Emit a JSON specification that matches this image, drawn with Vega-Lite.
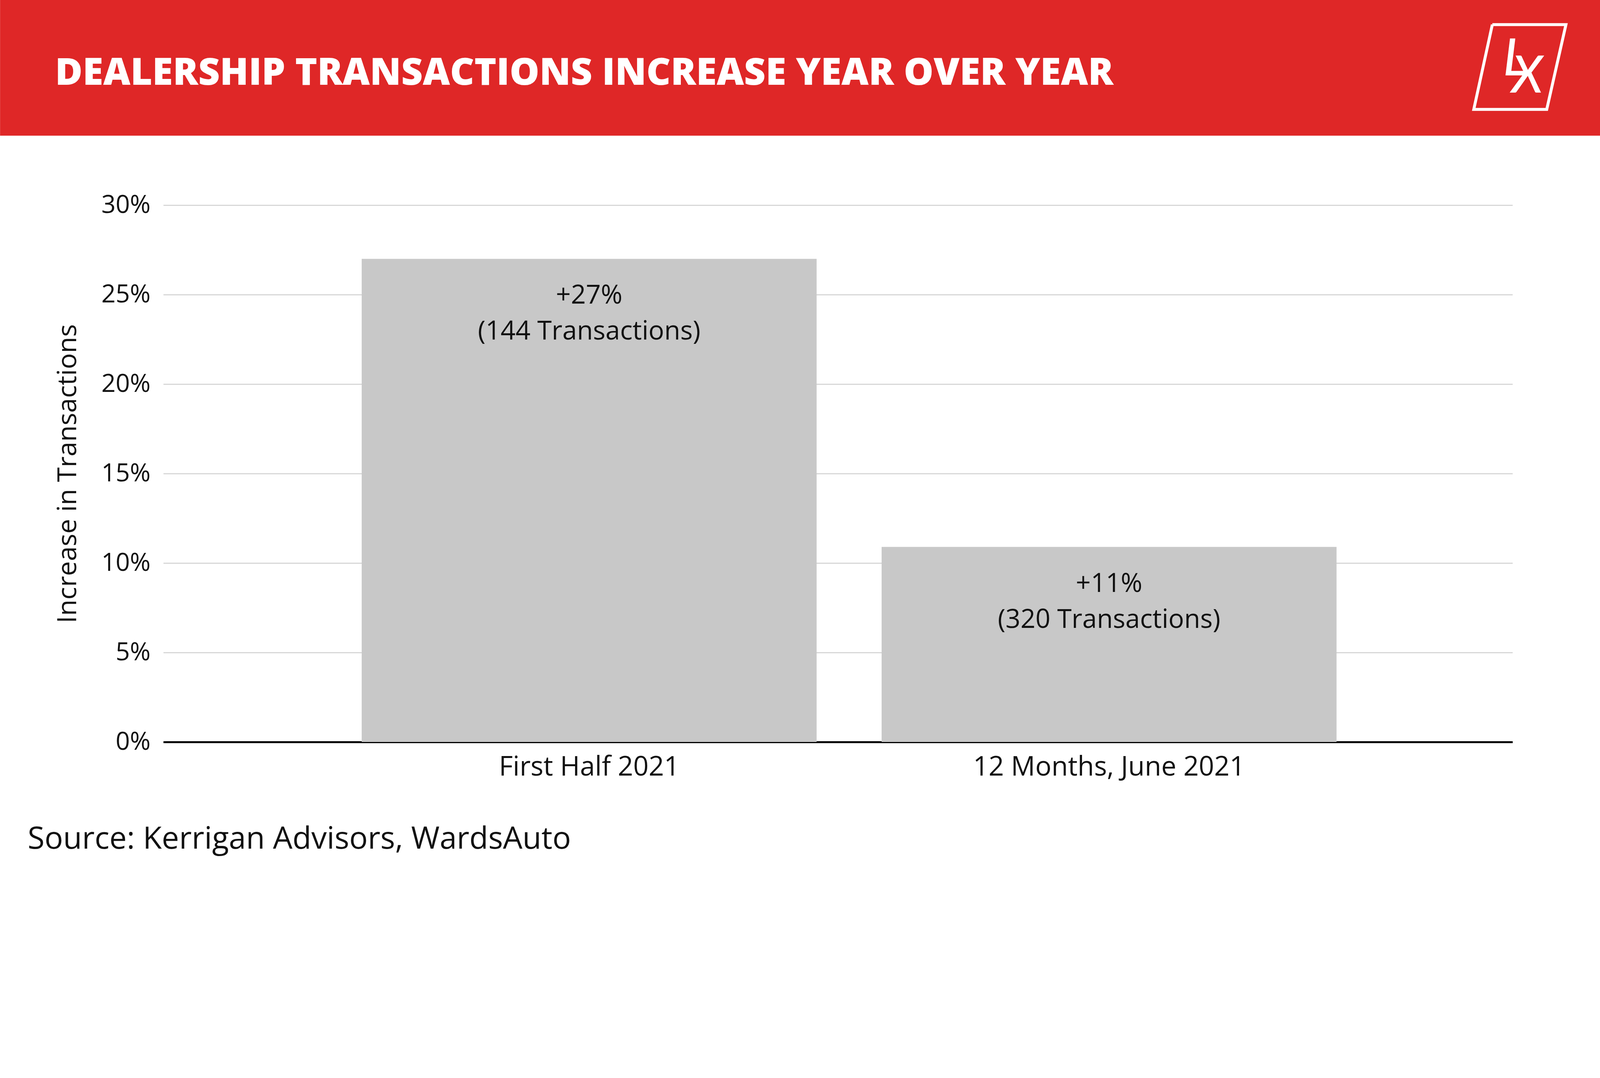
{
  "$schema": "https://vega.github.io/schema/vega-lite/v6.json",
  "background": "white",
  "autosize": {"type": "none"},
  "padding": {"left": 418, "top": 525, "right": 224, "bottom": 361},
  "width": 3454,
  "height": 1374,
  "config": {"font": "Open Sans", "view": {"stroke": null}},
  "resolve": {"scale": {"x": "independent", "y": "independent"}, "axis": {"x": "independent", "y": "independent"}},
  "layer": [
    {
      "data": {"values": [
        {"period": "First Half 2021", "pct": 27, "label": "+27%\n(144 Transactions)"},
        {"period": "12 Months, June 2021", "pct": 10.9, "label": "+11%\n(320 Transactions)"}
      ]},
      "encoding": {
        "x": {"field": "period", "type": "nominal", "sort": null, "title": null,
          "scale": {"paddingInner": 0.125, "paddingOuter": 0.36, "align": 0.53},
          "axis": {"labelAngle": 0, "labelFontSize": 69, "labelLimit": 0, "labelColor": "#111", "labelPadding": 30, "ticks": false, "domainColor": "#000", "domainWidth": 5}}
      },
      "layer": [
        {
          "mark": {"type": "bar", "color": "#c8c8c8"},
          "encoding": {
            "y": {"field": "pct", "type": "quantitative", "title": "Increase in Transactions",
              "scale": {"domain": [0, 30]},
              "axis": {"values": [0, 5, 10, 15, 20, 25, 30], "labelExpr": "datum.value + '%'", "labelFontSize": 64, "labelColor": "#111", "labelPadding": 33, "ticks": false, "domain": false, "gridColor": "#d0d0d0", "gridWidth": 2.5, "titleFontSize": 68, "titleFontWeight": 400, "titleColor": "#111", "titlePadding": 50}}
          }
        },
        {
          "mark": {"type": "text", "baseline": "top", "dy": 62, "fontSize": 67, "lineHeight": 92, "color": "#111", "lineBreak": "\n"},
          "encoding": {
            "y": {"field": "pct", "type": "quantitative"},
            "text": {"field": "label"}
          }
        }
      ]
    },
    {
      "data": {"values": [
        {"x": 0, "x2": 5000, "y": 0, "y2": 424}
      ]},
      "mark": {"type": "rect", "color": "#df2727", "clip": false},
      "encoding": {
        "x": {"field": "x", "type": "quantitative", "scale": {"domain": [510, 4726], "zero": false, "nice": false}, "axis": null},
        "x2": {"field": "x2"},
        "y": {"field": "y", "type": "quantitative", "scale": {"domain": [641, 2318], "reverse": true, "zero": false, "nice": false}, "axis": null},
        "y2": {"field": "y2"}
      }
    },
    {
      "data": {"values": [
        {"x": 172, "y": 230, "t": "DEALERSHIP TRANSACTIONS INCREASE YEAR OVER YEAR"}
      ]},
      "mark": {"type": "text", "align": "left", "baseline": "middle", "clip": false, "fontSize": 96, "fontWeight": 800, "color": "white"},
      "encoding": {
        "x": {"field": "x", "type": "quantitative", "scale": {"domain": [510, 4726], "zero": false, "nice": false}, "axis": null},
        "y": {"field": "y", "type": "quantitative", "scale": {"domain": [641, 2318], "reverse": true, "zero": false, "nice": false}, "axis": null},
        "text": {"field": "t"}
      }
    },
    {
      "data": {"values": [
        {"x": 86, "y": 2622, "t": "Source: Kerrigan Advisors, WardsAuto"}
      ]},
      "mark": {"type": "text", "align": "left", "baseline": "middle", "clip": false, "fontSize": 79, "color": "#111"},
      "encoding": {
        "x": {"field": "x", "type": "quantitative", "scale": {"domain": [510, 4726], "zero": false, "nice": false}, "axis": null},
        "y": {"field": "y", "type": "quantitative", "scale": {"domain": [641, 2318], "reverse": true, "zero": false, "nice": false}, "axis": null},
        "text": {"field": "t"}
      }
    },
    {
      "data": {"values": [
        {"o": 1, "x": 4663, "y": 77},
        {"o": 2, "x": 4893, "y": 77},
        {"o": 3, "x": 4833, "y": 342},
        {"o": 4, "x": 4605, "y": 342},
        {"o": 5, "x": 4663, "y": 77}
      ]},
      "mark": {"type": "line", "color": "white", "strokeWidth": 7.5, "strokeJoin": "miter", "clip": false},
      "encoding": {
        "x": {"field": "x", "type": "quantitative", "scale": {"domain": [510, 4726], "zero": false, "nice": false}, "axis": null},
        "y": {"field": "y", "type": "quantitative", "scale": {"domain": [641, 2318], "reverse": true, "zero": false, "nice": false}, "axis": null},
        "order": {"field": "o"}
      }
    },
    {
      "data": {"values": [{"x": 4735, "y": 236, "t": "L"}, {"x": 4772, "y": 290, "t": "X"}]},
      "mark": {"type": "text", "align": "center", "baseline": "alphabetic", "fontSize": 131, "fontStyle": "italic", "fontWeight": 500, "color": "white", "font": "Lato", "clip": false},
      "encoding": {
        "x": {"field": "x", "type": "quantitative", "scale": {"domain": [510, 4726], "zero": false, "nice": false}, "axis": null},
        "y": {"field": "y", "type": "quantitative", "scale": {"domain": [641, 2318], "reverse": true, "zero": false, "nice": false}, "axis": null},
        "text": {"field": "t"}
      }
    }
  ]
}
